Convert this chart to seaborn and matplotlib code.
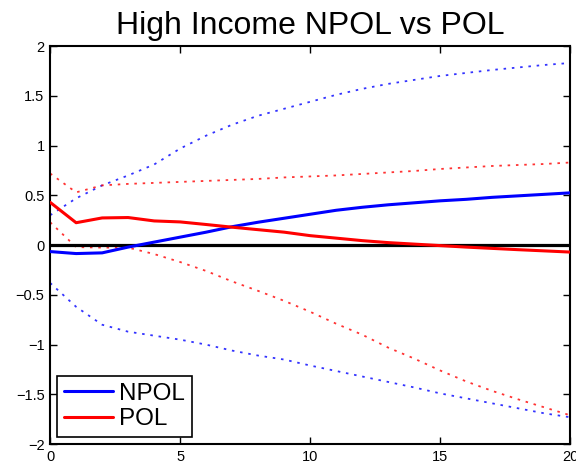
import matplotlib
matplotlib.use("Agg")
import matplotlib.pyplot as plt
from matplotlib.ticker import FuncFormatter, MultipleLocator
import pandas as pd
import seaborn as sns

# impulse responses, horizon 0..20
horizon = list(range(21))
npol = [-0.065, -0.085, -0.078, -0.02, 0.03, 0.08, 0.13, 0.185, 0.23, 0.27, 0.31,
        0.35, 0.38, 0.405, 0.425, 0.445, 0.46, 0.48, 0.495, 0.51, 0.525]
npol_upper = [0.30, 0.47, 0.60, 0.70, 0.81, 0.97, 1.10, 1.21, 1.30, 1.37, 1.44,
              1.51, 1.57, 1.62, 1.66, 1.70, 1.73, 1.76, 1.785, 1.81, 1.83]
npol_lower = [-0.38, -0.62, -0.80, -0.87, -0.91, -0.95, -1.0, -1.06, -1.11, -1.15, -1.21,
              -1.265, -1.32, -1.375, -1.43, -1.49, -1.54, -1.59, -1.64, -1.69, -1.73]
pol = [0.43, 0.225, 0.273, 0.277, 0.243, 0.233, 0.207, 0.18, 0.155, 0.13, 0.095,
       0.07, 0.045, 0.025, 0.01, -0.005, -0.02, -0.033, -0.046, -0.058, -0.07]
pol_upper = [0.72, 0.53, 0.60, 0.615, 0.625, 0.635, 0.645, 0.655, 0.665, 0.68, 0.69,
             0.70, 0.715, 0.73, 0.745, 0.765, 0.78, 0.795, 0.805, 0.815, 0.83]
pol_lower = [0.23, -0.02, -0.025, -0.025, -0.09, -0.17, -0.26, -0.365, -0.46, -0.56, -0.67,
             -0.79, -0.90, -1.03, -1.14, -1.26, -1.37, -1.465, -1.55, -1.63, -1.71]

df = pd.DataFrame({"h": horizon, "npol": npol, "npol_hi": npol_upper, "npol_lo": npol_lower,
                   "pol": pol, "pol_hi": pol_upper, "pol_lo": pol_lower})

sns.set_style("ticks")
plt.rcParams["font.family"] = ["Liberation Sans", "DejaVu Sans"]
plt.rcParams["text.color"] = "black"
plt.rcParams["xtick.color"] = "black"
plt.rcParams["ytick.color"] = "black"

fig = plt.figure(figsize=(5.76, 4.70), dpi=100)
ax = fig.add_axes([0.087, 0.055, 0.903, 0.847])

dotted = dict(linestyle=(0, (1.4, 3.2)), linewidth=1.3, alpha=0.8)
for col, c in [("npol_hi", "blue"), ("npol_lo", "blue"), ("pol_hi", "red"), ("pol_lo", "red")]:
    sns.lineplot(data=df, x="h", y=col, color=c, ax=ax, **dotted)

ax.axhline(0, color="black", lw=2.3, zorder=2)
sns.lineplot(data=df, x="h", y="npol", color="blue", lw=2.2, label="NPOL", ax=ax, zorder=3)
sns.lineplot(data=df, x="h", y="pol", color="red", lw=2.2, label="POL", ax=ax, zorder=3)

ax.set_xlim(0, 20)
ax.set_ylim(-2, 2)
ax.xaxis.set_major_locator(MultipleLocator(5))
ax.yaxis.set_major_locator(MultipleLocator(0.5))
fmt = FuncFormatter(lambda v, p: f"{v:g}".replace("-", "\u2212"))
ax.yaxis.set_major_formatter(fmt)
ax.xaxis.set_major_formatter(fmt)
ax.set_xlabel("")
ax.set_ylabel("")
ax.tick_params(direction="in", top=True, right=True, length=5, width=1, labelsize=10.5,
               pad=4, colors="black")
for s in ax.spines.values():
    s.set_linewidth(1.5)
    s.set_color("black")

ax.set_title("High Income NPOL vs POL", fontsize=23, pad=9, color="black")

leg = ax.legend(loc="lower left", bbox_to_anchor=(0.014, 0.018), borderaxespad=0,
                fontsize=17.5, handlelength=2.0, handletextpad=0.25, labelspacing=0.15,
                borderpad=0.28, fancybox=False, framealpha=1)
leg.get_frame().set_edgecolor("black")
leg.get_frame().set_linewidth(1.2)

fig.savefig("out.png", dpi=100)
